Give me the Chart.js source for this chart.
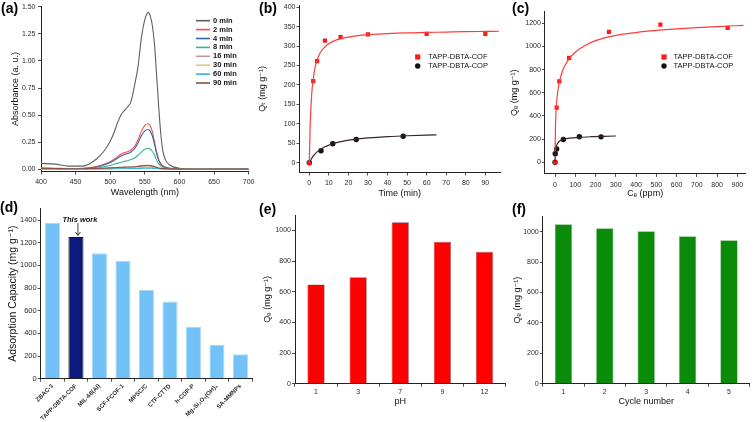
<!DOCTYPE html>
<html>
<head>
<meta charset="utf-8">
<script src="https://cdn.jsdelivr.net/npm/chart.js@4.4.1/dist/chart.umd.min.js"></script>
<style>
  html, body { margin: 0; padding: 0; background: #fff; }
  body { width: 754px; height: 422px; position: relative; overflow: hidden; }
  canvas { position: absolute; }
</style>
</head>
<body>
<canvas id="chartA"></canvas>
<canvas id="chartB"></canvas>
<canvas id="chartC"></canvas>
<canvas id="chartD"></canvas>
<canvas id="chartE"></canvas>
<canvas id="chartF"></canvas>
<script>
// (a) UV-vis spectra over time
const wavelengths = [400,420,440,460,470,480,490,500,505,510,515,520,525,530,535,540,545,550,555,558,561,564,567,570,573,576,580,585,590,600,620,650,700]
const abs0 = [0.055,0.048,0.030,0.030,0.050,0.095,0.160,0.260,0.330,0.420,0.495,0.540,0.575,0.625,0.770,0.940,1.210,1.380,1.448,1.410,1.320,1.150,0.870,0.580,0.330,0.170,0.085,0.045,0.025,0.010,0.004,0.002,0.001]
const abs2 = [0.012,0.010,0.008,0.010,0.015,0.025,0.045,0.070,0.090,0.115,0.137,0.152,0.162,0.178,0.210,0.270,0.350,0.405,0.420,0.400,0.345,0.255,0.160,0.092,0.052,0.032,0.020,0.012,0.008,0.005,0.004,0.003,0.002]
const abs4 = [0.010,0.008,0.007,0.008,0.012,0.020,0.038,0.062,0.080,0.100,0.120,0.135,0.145,0.160,0.190,0.240,0.310,0.355,0.368,0.350,0.305,0.230,0.145,0.085,0.048,0.030,0.018,0.010,0.007,0.004,0.003,0.002,0.002]
const abs8 = [0.006,0.005,0.004,0.005,0.008,0.012,0.022,0.035,0.045,0.055,0.063,0.072,0.080,0.090,0.105,0.130,0.160,0.185,0.193,0.185,0.165,0.130,0.085,0.050,0.030,0.018,0.010,0.006,0.004,0.003,0.002,0.002,0.001]
const abs16 = [0.006,0.005,0.005,0.005,0.006,0.007,0.009,0.011,0.013,0.015,0.017,0.018,0.019,0.020,0.022,0.025,0.028,0.030,0.031,0.030,0.027,0.022,0.016,0.011,0.008,0.006,0.005,0.004,0.004,0.003,0.003,0.002,0.002]
const abs30 = [0.004,0.004,0.003,0.003,0.004,0.005,0.006,0.007,0.008,0.009,0.010,0.011,0.012,0.012,0.013,0.015,0.017,0.018,0.019,0.018,0.016,0.013,0.010,0.007,0.005,0.004,0.003,0.003,0.002,0.002,0.002,0.001,0.001]
const abs60 = [0.003,0.003,0.003,0.003,0.003,0.003,0.004,0.004,0.005,0.005,0.006,0.006,0.006,0.007,0.007,0.008,0.009,0.010,0.011,0.010,0.009,0.008,0.006,0.005,0.004,0.003,0.003,0.002,0.002,0.002,0.001,0.001,0.001]
const abs90 = [0.008,0.007,0.006,0.006,0.007,0.008,0.010,0.013,0.015,0.017,0.019,0.020,0.021,0.022,0.024,0.028,0.032,0.035,0.037,0.035,0.031,0.025,0.018,0.012,0.009,0.007,0.006,0.005,0.004,0.004,0.003,0.003,0.002]
const timeLabels = ['0 min','2 min','4 min','8 min','16 min','30 min','60 min','90 min']
const timeColors = ['#5f5f5f','#ff4a4a','#2f6aa3','#35b890','#c99494','#e6c088','#33b4dc','#8a4f3e']
const spectra = [abs0, abs2, abs4, abs8, abs16, abs30, abs60, abs90]
const wavelengthTicks = [400,450,500,550,600,650,700]
const absTicks = [0,0.25,0.5,0.75,1,1.25,1.5]

// (b) kinetics
const cofTime = [0,2,4,8,16,30,60,90]
const cofQt = [0,210,261,314,323,330,331,331]
const copTime = [0,6,12,24,48]
const copQt = [0,31,49,60,68]
const cofFitTime = [0,0.5,1,1.5,2,3,4,5,6,8,10,13,16,20,25,30,40,50,60,70,80,90,97]
const cofFitQt = [0,102,157,192,215,246,264,277,286,298,306,314,319,323,327,329,332,334,335,336,337,337.6,338]
const copFitTime = [0,1,2,4,6,8,10,12,15,20,25,30,40,50,65]
const copFitQt = [0,9,17,28,35,41,45.5,49,53,58,61.4,63.9,67.3,69.5,71.6]
const timeTicks = [0,10,20,30,40,50,60,70,80,90]
const qtTicks = [0,50,100,150,200,250,300,350,400]

// (c) isotherms
const cofCe = [0,8,21,69,266,520,852]
const cofQe = [0,472,699,901,1125,1188,1160]
const copCe = [0,1,8,41,120,227]
const copQe = [0,75,115,197,221,220]
const cofFitCe = [0.5,2,5,10,20,35,50,70,100,150,200,300,400,500,600,700,800,930]
const cofFitQe = [100,300,440,560,680,780,840,895,950,1010,1050,1095,1120,1138,1152,1163,1172,1182]
const copFitCe = [0,1,3,6,10,20,40,70,120,180,240,300]
const copFitQe = [0,60,105,135,155,180,198,208,216,221,224,227]
const ceTicks = [0,100,200,300,400,500,600,700,800,900]
const qeTicks = [0,200,400,600,800,1000,1200]

// (d) comparison of adsorbents
const adsorbents = ['ZBAC-3','TAPP-DBTA-COF','MIL-68(Al)','SCF-FCOF-1','MPSC/C','CTF-CTTD','h-COP-P','Mg\u2083Si\u2082O\u2085(OH)\u2084','SA-MMNPs']
const capacities = [1376,1250,1106,1041,782,682,459,297,215]
const capacityTicks = [0,200,400,600,800,1000,1200,1400]

// (e) pH effect
const phValues = ['1','3','7','9','12']
const phQe = [648,694,1053,926,861]

// (f) recycling
const cycleNumbers = ['1','2','3','4','5']
const cycleQe = [1049,1022,1003,970,943]
const barTicks = [0,200,400,600,800,1000]

const FONT = "'Liberation Sans', Arial, 'DejaVu Sans', sans-serif"
Chart.defaults.font.family = FONT
Chart.defaults.color = '#222'
Chart.defaults.animation = false
Chart.defaults.responsive = false

const decor = {
  id: 'decor',
  afterDraw(chart, args, o) {
    const ctx = chart.ctx
    ctx.save()
    ctx.textBaseline = 'middle'
    ctx.textAlign = 'left'
    if (o.tag) {
      ctx.font = 'bold 14px ' + FONT
      ctx.fillStyle = '#000'
      ctx.fillText(o.tag[0], o.tag[1], o.tag[2])
    }
    ;(o.items || []).forEach((it, i) => {
      const y = o.y + i * o.rowH
      ctx.fillStyle = it.color
      ctx.strokeStyle = it.color
      if (it.kind === 'line') {
        ctx.lineWidth = 1.6
        ctx.beginPath(); ctx.moveTo(o.x - 14, y); ctx.lineTo(o.x, y); ctx.stroke()
      } else if (it.kind === 'rect') {
        ctx.fillRect(o.x - 2.6, y - 2.6, 5.2, 5.2)
      } else {
        ctx.beginPath(); ctx.arc(o.x, y, 2.7, 0, Math.PI * 2); ctx.fill()
      }
      ctx.fillStyle = '#111'
      ctx.font = o.font
      ctx.fillText(it.label, o.textX, y)
    })
    if (o.note) {
      const x = chart.scales.x.getPixelForValue(o.note.index)
      const top = chart.scales.y.getPixelForValue(capacities[o.note.index])
      ctx.font = 'italic bold 7.5px ' + FONT
      ctx.fillStyle = '#111'
      ctx.textAlign = 'center'
      ctx.fillText(o.note.text, x + 4, top - 17)
      ctx.strokeStyle = '#111'
      ctx.lineWidth = 0.8
      ctx.beginPath(); ctx.moveTo(x + 2, top - 14); ctx.lineTo(x + 2, top - 2); ctx.stroke()
      ctx.beginPath(); ctx.moveTo(x - 0.5, top - 5); ctx.lineTo(x + 2, top - 1.5); ctx.lineTo(x + 4.5, top - 5); ctx.stroke()
    }
    ctx.restore()
  }
}

function place(id, box, area) {
  const cv = document.getElementById(id)
  cv.width = box.w
  cv.height = box.h
  cv.style.left = box.x + 'px'
  cv.style.top = box.y + 'px'
  return {
    padding: { left: 0, top: area.t - box.y, right: box.x + box.w - area.r, bottom: 0 },
    yW: area.l - box.x,
    xH: box.y + box.h - area.b
  }
}

function linAxis(min, max, ticks, fit, title, t) {
  return {
    type: 'linear', min, max,
    afterBuildTicks: s => { s.ticks = ticks.map(v => ({ value: v })) },
    afterFit: fit,
    grid: { drawOnChartArea: false, drawTicks: true, tickLength: 3, color: '#222', tickWidth: 0.8 },
    border: { display: true, color: '#222', width: 1 },
    ticks: { font: { size: t.size }, color: '#2a2a2a', padding: t.pad, maxRotation: 0, autoSkip: false, callback: t.fmt || (v => v) },
    title: { display: true, text: title, font: { size: t.tsize }, color: '#111', padding: { top: t.tpad, bottom: t.tpad } }
  }
}

function catAxis(fit, title, t) {
  return {
    type: 'category', offset: true,
    afterFit: fit,
    grid: { drawOnChartArea: false, drawTicks: true, tickLength: 3, color: '#222', tickWidth: 0.8, offset: true },
    border: { display: true, color: '#222', width: 1 },
    ticks: { font: { size: t.size, weight: t.weight || 'normal' }, color: '#2a2a2a', padding: t.pad, autoSkip: false, maxRotation: t.rot || 0, minRotation: t.rot || 0 },
    title: { display: !!title, text: title, font: { size: t.tsize }, color: '#111', padding: { top: 0, bottom: t.tpad } }
  }
}

// ---- (a)
{
  const box = { x: 0, y: 0, w: 258, h: 199 }
  const L = place('chartA', box, { l: 41, t: 5.3, r: 251, b: 171.5 })
  new Chart('chartA', {
    type: 'line',
    data: {
      datasets: spectra.map((s, i) => ({
        label: timeLabels[i],
        data: s.map((v, j) => ({ x: wavelengths[j], y: v })),
        borderColor: timeColors[i],
        borderWidth: 1.1,
        pointRadius: 0,
        cubicInterpolationMode: 'monotone'
      })).reverse()
    },
    options: {
      layout: { padding: L.padding },
      plugins: {
        legend: { display: false }, tooltip: { enabled: false },
        decor: {
          tag: ['(a)', 1, 9],
          x: 210, textX: 213, y: 20.7, rowH: 8.9, font: 'bold 7.5px ' + FONT,
          items: timeLabels.map((l, i) => ({ label: l, color: timeColors[i], kind: 'line' }))
        }
      },
      scales: {
        x: linAxis(400, 700, wavelengthTicks, s => { s.height = L.xH }, 'Wavelength (nm)', { size: 7, pad: 3.5, tsize: 9, tpad: 1.5 }),
        y: linAxis(-0.02, 1.5, absTicks, s => { s.width = L.yW }, 'Absorbance (a. u.)', { size: 7, pad: 2.5, tsize: 9, tpad: 10.6, fmt: v => v.toFixed(2) })
      }
    },
    plugins: [decor]
  })
}

// ---- (b)
{
  const box = { x: 250, y: 0, w: 254, h: 200 }
  const L = place('chartB', box, { l: 299.5, t: 4.8, r: 500, b: 172.5 })
  new Chart('chartB', {
    type: 'scatter',
    data: {
      datasets: [
        { data: cofFitTime.map((t, i) => ({ x: t, y: cofFitQt[i] })), showLine: true, pointRadius: 0, borderColor: '#ff3b3b', borderWidth: 1.2, cubicInterpolationMode: 'monotone' },
        { data: copFitTime.map((t, i) => ({ x: t, y: copFitQt[i] })), showLine: true, pointRadius: 0, borderColor: '#3a2626', borderWidth: 1.2, cubicInterpolationMode: 'monotone' },
        { data: cofTime.map((t, i) => ({ x: t, y: cofQt[i] })), pointStyle: 'rect', pointRadius: 3, backgroundColor: '#ff1a1a', borderWidth: 0 },
        { data: copTime.map((t, i) => ({ x: t, y: copQt[i] })), pointStyle: 'circle', pointRadius: 2.7, backgroundColor: '#111', borderWidth: 0 }
      ]
    },
    options: {
      layout: { padding: L.padding },
      plugins: {
        legend: { display: false }, tooltip: { enabled: false },
        decor: {
          tag: ['(b)', 9, 9],
          x: 167.7, textX: 178.2, y: 57, rowH: 9, font: '7.5px ' + FONT,
          items: [{ label: 'TAPP-DBTA-COF', color: '#ff1a1a', kind: 'rect' }, { label: 'TAPP-DBTA-COP', color: '#111', kind: 'circle' }]
        }
      },
      scales: {
        x: linAxis(-5, 97.5, timeTicks, s => { s.height = L.xH }, 'Time (min)', { size: 7, pad: 3.5, tsize: 9, tpad: 1.5 }),
        y: linAxis(-25, 405, qtTicks, s => { s.width = L.yW }, 'Q\u209C (mg g\u207B\u00B9)', { size: 7, pad: 1, tsize: 9, tpad: 7.6 })
      }
    },
    plugins: [decor]
  })
}

// ---- (c)
{
  const box = { x: 500, y: 0, w: 254, h: 200 }
  const L = place('chartC', box, { l: 544.9, t: 11.7, r: 745.5, b: 173.9 })
  new Chart('chartC', {
    type: 'scatter',
    data: {
      datasets: [
        { data: cofFitCe.map((c, i) => ({ x: c, y: cofFitQe[i] })), showLine: true, pointRadius: 0, borderColor: '#ff3b3b', borderWidth: 1.2, cubicInterpolationMode: 'monotone' },
        { data: copFitCe.map((c, i) => ({ x: c, y: copFitQe[i] })), showLine: true, pointRadius: 0, borderColor: '#3a2626', borderWidth: 1.2, cubicInterpolationMode: 'monotone' },
        { data: cofCe.map((c, i) => ({ x: c, y: cofQe[i] })), pointStyle: 'rect', pointRadius: 3, backgroundColor: '#ff1a1a', borderWidth: 0 },
        { data: copCe.map((c, i) => ({ x: c, y: copQe[i] })), pointStyle: 'circle', pointRadius: 2.7, backgroundColor: '#111', borderWidth: 0 }
      ]
    },
    options: {
      layout: { padding: L.padding },
      plugins: {
        legend: { display: false }, tooltip: { enabled: false },
        decor: {
          tag: ['(c)', 12, 9],
          x: 164, textX: 173.5, y: 57, rowH: 9, font: '7.5px ' + FONT,
          items: [{ label: 'TAPP-DBTA-COF', color: '#ff1a1a', kind: 'rect' }, { label: 'TAPP-DBTA-COP', color: '#111', kind: 'circle' }]
        }
      },
      scales: {
        x: linAxis(-50, 940, ceTicks, s => { s.height = L.xH }, 'C\u2091 (ppm)', { size: 7, pad: 3.5, tsize: 9, tpad: 1.5 }),
        y: linAxis(-100, 1300, qeTicks, s => { s.width = L.yW }, 'Q\u2091 (mg g\u207B\u00B9)', { size: 7, pad: 1, tsize: 9, tpad: 9.6 })
      }
    },
    plugins: [decor]
  })
}

// ---- (d)
{
  const box = { x: 0, y: 200, w: 256, h: 222 }
  const L = place('chartD', box, { l: 40.7, t: 208.7, r: 252.2, b: 378.7 })
  new Chart('chartD', {
    type: 'bar',
    data: {
      labels: adsorbents,
      datasets: [{
        data: capacities,
        backgroundColor: adsorbents.map((a, i) => i === 1 ? '#0c1a7e' : '#72c2f8'),
        borderColor: adsorbents.map((a, i) => i === 1 ? '#111' : '#a6d8fa'),
        borderWidth: 1,
        barPercentage: 0.64,
        categoryPercentage: 1
      }]
    },
    options: {
      layout: { padding: L.padding },
      plugins: {
        legend: { display: false }, tooltip: { enabled: false },
        decor: { tag: ['(d)', 0, 8], note: { text: 'This work', index: 1 } }
      },
      scales: {
        x: catAxis(s => { s.height = L.xH }, '', { size: 6, weight: 'bold', pad: 1, rot: 45 }),
        y: linAxis(0, 1500, capacityTicks, s => { s.width = L.yW }, 'Adsorption Capacity (mg g\u207B\u00B9)', { size: 7.5, pad: 1, tsize: 10.5, tpad: 6.7 })
      }
    },
    plugins: [decor]
  })
}

// ---- (e)
{
  const box = { x: 250, y: 200, w: 262, h: 208 }
  const L = place('chartE', box, { l: 295, t: 215.1, r: 505.5, b: 383.7 })
  new Chart('chartE', {
    type: 'bar',
    data: {
      labels: phValues,
      datasets: [{ data: phQe, backgroundColor: '#ff0000', borderColor: '#8e5a5a', borderWidth: 0.7, barPercentage: 0.41, categoryPercentage: 1 }]
    },
    options: {
      layout: { padding: L.padding },
      plugins: { legend: { display: false }, tooltip: { enabled: false }, decor: { tag: ['(e)', 9, 10] } },
      scales: {
        x: catAxis(s => { s.height = L.xH }, 'pH', { size: 7, pad: 1.5, tsize: 9, tpad: 1.5 }),
        y: linAxis(0, 1100, barTicks, s => { s.width = L.yW }, 'Q\u2091 (mg g\u207B\u00B9)', { size: 7, pad: 1, tsize: 9, tpad: 12.6 })
      }
    },
    plugins: [decor]
  })
}

// ---- (f)
{
  const box = { x: 500, y: 200, w: 254, h: 208 }
  const L = place('chartF', box, { l: 542.7, t: 216.5, r: 749.7, b: 383.7 })
  new Chart('chartF', {
    type: 'bar',
    data: {
      labels: cycleNumbers,
      datasets: [{ data: cycleQe, backgroundColor: '#0a8c0a', borderColor: '#6fb06f', borderWidth: 0.7, barPercentage: 0.42, categoryPercentage: 1 }]
    },
    options: {
      layout: { padding: L.padding },
      plugins: { legend: { display: false }, tooltip: { enabled: false }, decor: { tag: ['(f)', 12, 10] } },
      scales: {
        x: catAxis(s => { s.height = L.xH }, 'Cycle number', { size: 7, pad: 1.5, tsize: 9, tpad: 1.5 }),
        y: linAxis(0, 1100, barTicks, s => { s.width = L.yW }, 'Q\u2091 (mg g\u207B\u00B9)', { size: 7, pad: 1, tsize: 9, tpad: 12.6 })
      }
    },
    plugins: [decor]
  })
}
</script>
</body>
</html>
